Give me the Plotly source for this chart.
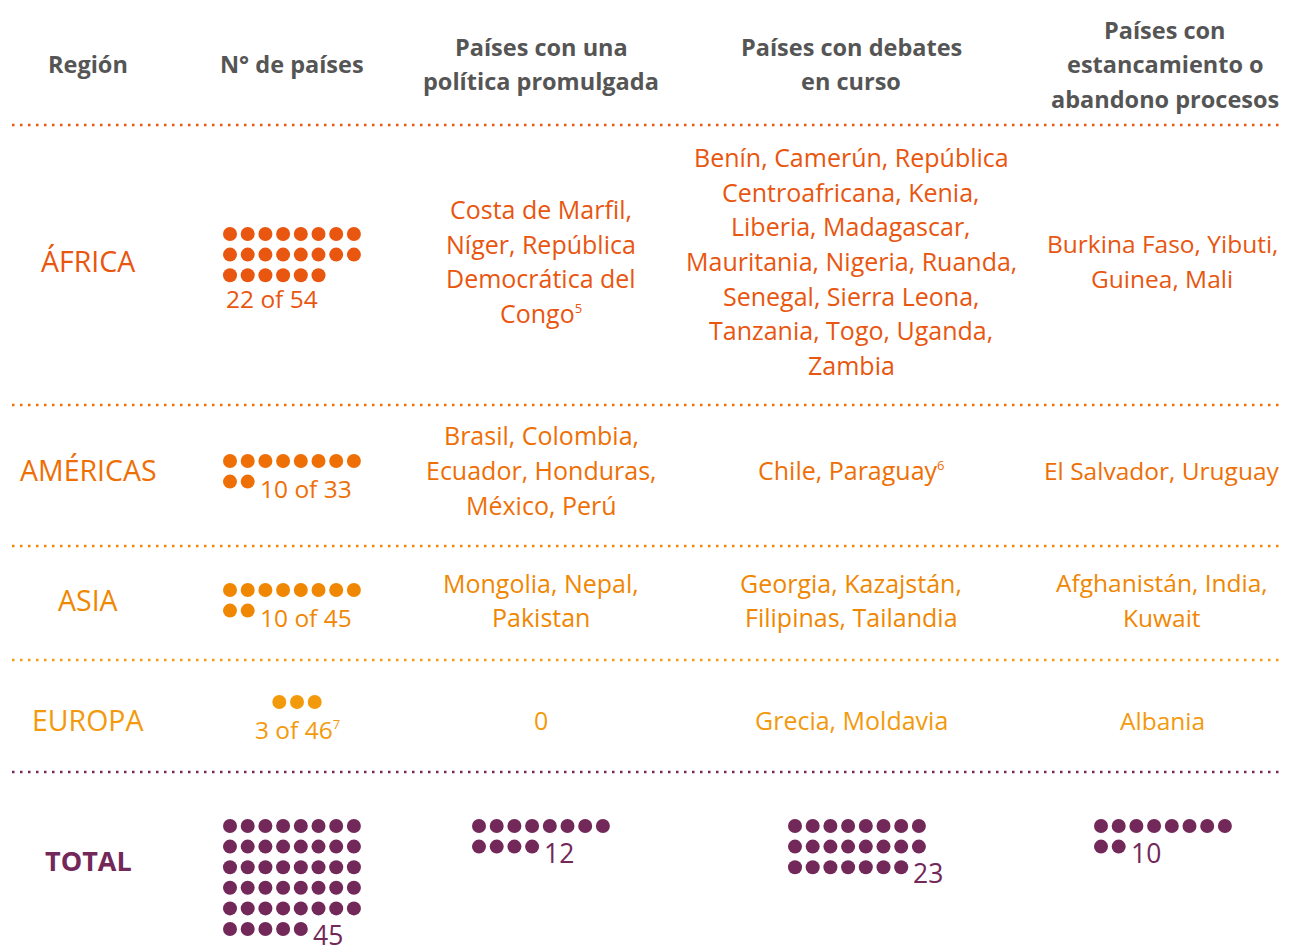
import plotly.graph_objects as go

# ---------------- data ----------------
headers = ["Región", "N° de países", "Países con una<br>política promulgada",
           "Países con debates<br>en curso", "Países con<br>estancamiento o<br>abandono procesos"]
regions = ["ÁFRICA", "AMÉRICAS", "ASIA", "EUROPA"]
region_counts = [22, 10, 10, 3]
SUP = "<sup><span style='font-size:13px'>%s</span></sup>"
region_totals = ["54", "33", "45", "46" + SUP % "7"]
enacted = [
    "Costa de Marfil,<br>Níger, República<br>Democrática del<br>Congo" + SUP % "5",
    "Brasil, Colombia,<br>Ecuador, Honduras,<br>México, Perú",
    "Mongolia, Nepal,<br>Pakistan",
    "0",
]
debates = [
    "Benín, Camerún, República<br>Centroafricana, Kenia,<br>Liberia, Madagascar,<br>Mauritania, Nigeria, Ruanda,<br>Senegal, Sierra Leona,<br>Tanzania, Togo, Uganda,<br>Zambia",
    "Chile, Paraguay" + SUP % "6",
    "Georgia, Kazajstán,<br>Filipinas, Tailandia",
    "Grecia, Moldavia",
]
stalled = [
    "Burkina Faso, Yibuti,<br>Guinea, Mali",
    "El Salvador, Uruguay",
    "Afghanistán, India,<br>Kuwait",
    "Albania",
]
total_label = "TOTAL"
total_counts = [45, 12, 23, 10]

# ---------------- style ----------------
region_colors = ["#E8560F", "#EE6F06", "#F08703", "#F39A0C"]
purple = "#722859"
header_color = "#555555"
FONT = "Open Sans"
W, H = 1290, 947
OFF = 8  # page body margin compensation

col_x = [88, 292, 541, 851, 1162]
row_y = [261, 470, 600, 720]
total_y = 860
sep_y = [125, 405, 546, 660, 772]
sep_colors = ["#E8560F", "#EE6F06", "#F08703", "#F39A0C", purple]
LINE_H = 34.7
DOT_DX, DOT_DY = 17.7, 20.6
PER_ROW = 8

fig = go.Figure()
annotations = []


def add_text(x, y, text, color, size, bold=False, lh=LINE_H, xanchor="center"):
    lines = text.split("<br>")
    n = len(lines)
    for i, ln in enumerate(lines):
        yy = y + (i - (n - 1) / 2) * lh
        annotations.append(dict(
            x=x, y=yy, xref="x", yref="y", text=("<b>%s</b>" % ln) if bold else ln,
            showarrow=False, xanchor=xanchor, yanchor="middle",
            font=dict(family=FONT, size=size, color=color)))


def dot_grid(n, x0, y0, color):
    xs, ys = [], []
    for k in range(n):
        r, c = divmod(k, PER_ROW)
        xs.append(x0 + c * DOT_DX)
        ys.append(y0 + r * DOT_DY)
    fig.add_trace(go.Scatter(x=xs, y=ys, mode="markers", hoverinfo="skip",
                             marker=dict(size=14, color=color, line=dict(width=0)),
                             showlegend=False))
    return xs, ys


# headers
for j, (x, h) in enumerate(zip(col_x, headers)):
    add_text(x + (3 if j == 4 else 0), 64, h, header_color, 23.5, bold=True, lh=34.5)

# separators
for y, c in zip(sep_y, sep_colors):
    fig.add_shape(type="line", x0=12, x1=1288, y0=y, y1=y, xref="x", yref="y",
                  line=dict(color=c, width=2.5, dash="2.5px,5.5px"))

# region rows
dot_start_y = [234, 461, 590, 702]
for i, reg in enumerate(regions):
    c = region_colors[i]
    y = row_y[i]
    add_text(col_x[0], y, reg, c, 28.5)
    n = region_counts[i]
    if n < PER_ROW:
        x0 = col_x[1] + 5 - (n - 1) * DOT_DX / 2
    else:
        x0 = 230
    xs, ys = dot_grid(n, x0, dot_start_y[i], c)
    label = "%d of %s" % (n, region_totals[i])
    if n < PER_ROW:
        annotations.append(dict(x=297, y=ys[-1] + 27, xref="x", yref="y", text=label,
                                showarrow=False, xanchor="center", yanchor="middle",
                                font=dict(family=FONT, size=24.5, color=c)))
    elif n % PER_ROW == 0 or n % PER_ROW > 3:
        annotations.append(dict(x=224, y=ys[-1] + 23, xref="x", yref="y", text=label,
                                showarrow=False, xanchor="left", yanchor="middle",
                                font=dict(family=FONT, size=24.5, color=c)))
    else:
        annotations.append(dict(x=xs[-1] + 10, y=ys[-1] + 7, xref="x", yref="y", text=label,
                                showarrow=False, xanchor="left", yanchor="middle",
                                font=dict(family=FONT, size=24.5, color=c)))
    add_text(col_x[2], y, enacted[i], c, 25)
    add_text(col_x[3], y, debates[i], c, 25)
    add_text(col_x[4], y, stalled[i], c, 24.5)

# total row
add_text(col_x[0], total_y, total_label, purple, 27, bold=True)
total_x0 = [230, 479, 795, 1101]
for j, n in enumerate(total_counts):
    xs, ys = dot_grid(n, total_x0[j], 826, purple)
    annotations.append(dict(x=xs[-1] + 10, y=ys[-1] + 6, xref="x", yref="y",
                            text=str(n), showarrow=False, xanchor="left", yanchor="middle",
                            font=dict(family=FONT, size=26.5, color=purple)))

# figure offset by the page's 8px body margin
FIG_W, FIG_H = W - OFF, H - OFF
fig.update_layout(
    width=FIG_W, height=FIG_H, margin=dict(l=0, r=0, t=0, b=0),
    paper_bgcolor="white", plot_bgcolor="white",
    xaxis=dict(range=[OFF, OFF + FIG_W], visible=False, fixedrange=True),
    yaxis=dict(range=[OFF + FIG_H, OFF], visible=False, fixedrange=True),
    annotations=annotations, showlegend=False,
)

fig.write_html("out.html", config={"displayModeBar": False})
